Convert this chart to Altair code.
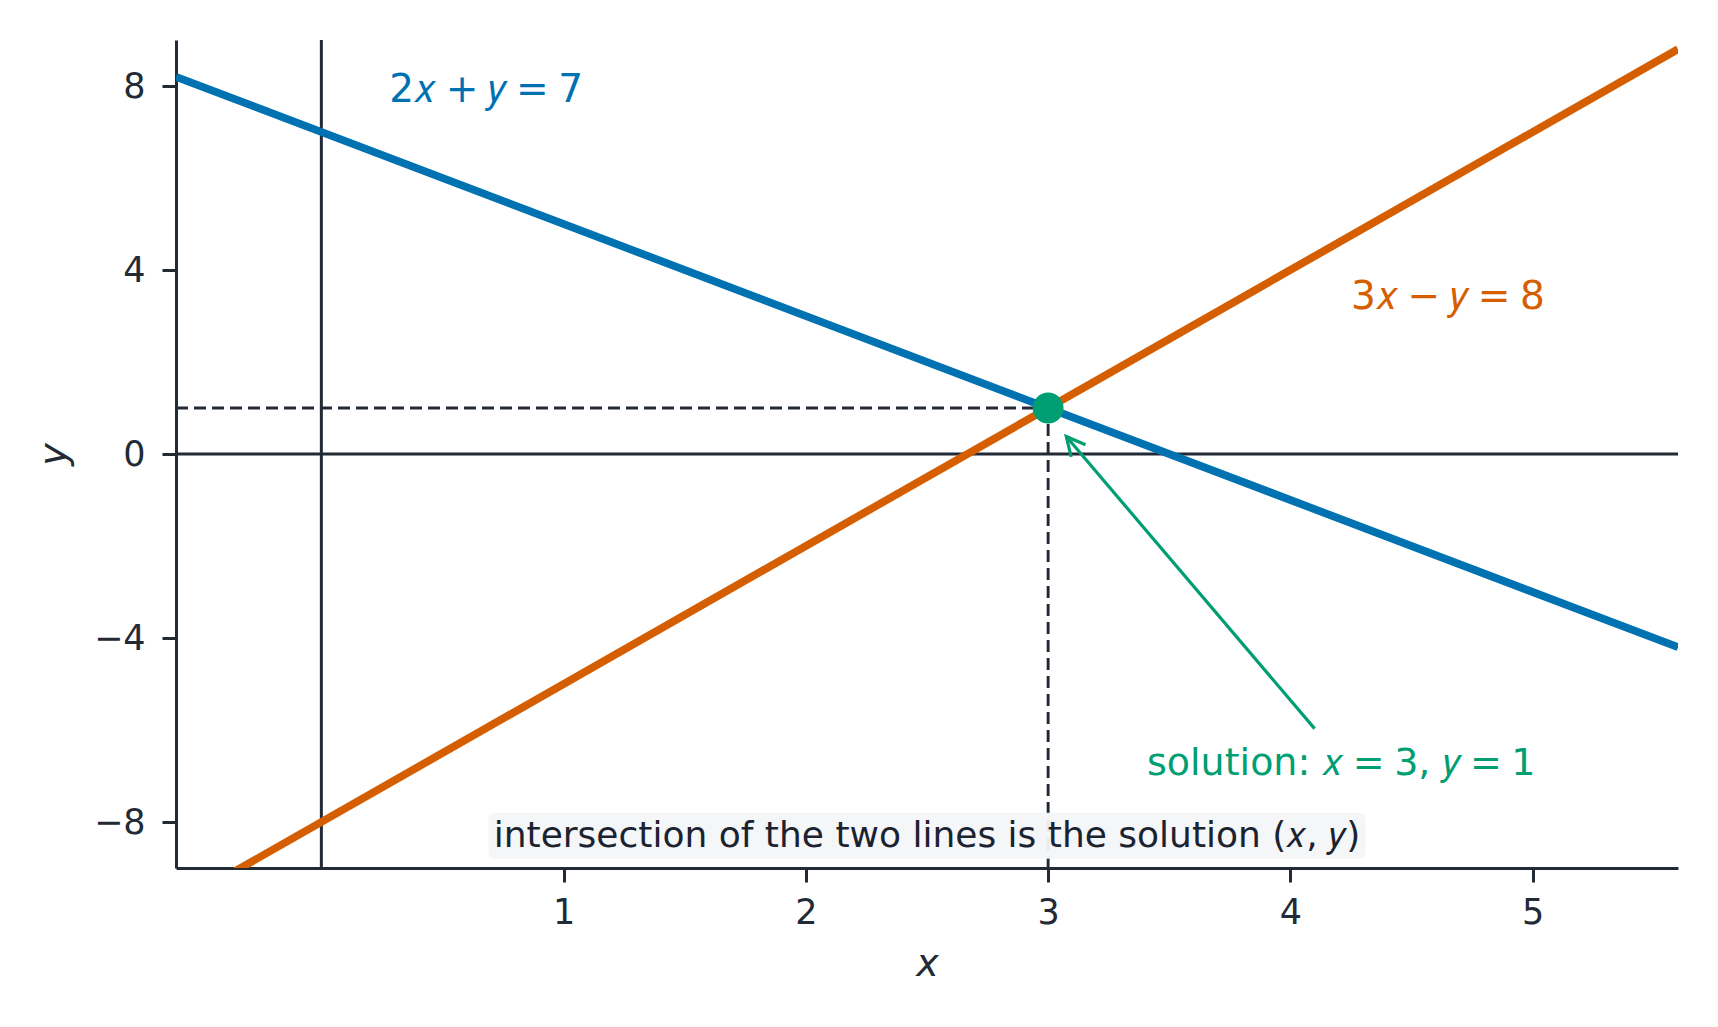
import altair as alt
import pandas as pd

# ---- values ----
x_domain = [-0.6, 5.6]
y_domain = [-9, 9]
x_ticks = [1, 2, 3, 4, 5]
y_ticks = [-8, -4, 0, 4, 8]

line_x = [-0.6, 5.6]
blue_y = [8.2, -4.2]      # 2x + y = 7
orange_y = [-9.8, 8.8]    # 3x - y = 8

sol_x = [3]
sol_y = [1]

S = "\u2005"  # narrower math-style space
label_text = [f"2𝑥{S}+{S}𝑦{S}={S}7", f"3𝑥{S}−{S}𝑦{S}={S}8"]
label_x = [0.28, 4.25]
label_y = [8.0, 3.5]
label_color = ["#0072B2", "#D55E00"]

solution_text = [f"solution: 𝑥{S}={S}3, 𝑦{S}={S}1"]
solution_x = [4.21]
solution_y = [-6.7]

arrow_from = [4.10, -5.97]
arrow_to = [3.075, 0.38]

note_text = ["intersection of the two lines is the solution (𝑥, 𝑦)"]
note_x = [2.5]
note_y = [-8.3]
note_box_x = [0.69, 4.31]
note_box_y = [-7.8, -8.8]

# ---- styling ----
AX = "#222a36"
BLUE = "#0072B2"
ORANGE = "#D55E00"
GREEN = "#009E73"
FONT = "DejaVu Sans"

xscale = alt.Scale(domain=x_domain, nice=False, zero=False)
yscale = alt.Scale(domain=y_domain, nice=False, zero=False)

xaxis = alt.Axis(values=x_ticks, title="x", grid=False, domainColor=AX, domainWidth=3,
                 tickColor=AX, tickWidth=3, tickSize=14, labelFontSize=35, labelColor=AX,
                 labelPadding=13, labelFont=FONT, titleFont=FONT, titleFontSize=38,
                 titleFontWeight="normal", titleFontStyle="italic", titleColor=AX,
                 titleY=107, titleBaseline="alphabetic")
yaxis = alt.Axis(values=y_ticks, title="y", grid=False, domainColor=AX, domainWidth=3,
                 tickColor=AX, tickWidth=3, tickSize=14, labelFontSize=35, labelColor=AX,
                 labelPadding=17, labelFont=FONT, titleFont=FONT, titleFontSize=38,
                 titleFontWeight="normal", titleFontStyle="italic", titleColor=AX,
                 titleAngle=270, titleX=-111, titleY=414, titleBaseline="alphabetic",
                 titleAlign="center")


def X(f):
    return alt.X(f, type="quantitative", scale=xscale, axis=xaxis)


def Y(f):
    return alt.Y(f, type="quantitative", scale=yscale, axis=yaxis)


lines_df = pd.DataFrame({
    "x": line_x * 2,
    "y": blue_y + orange_y,
    "eq": ["blue"] * 2 + ["orange"] * 2,
})

base_df = pd.DataFrame({"x": [0.0], "y": [0.0]})

zero_v = alt.Chart(base_df).mark_rule(color=AX, strokeWidth=3).encode(x=X("x"))
zero_h = alt.Chart(base_df).mark_rule(color=AX, strokeWidth=3).encode(y=Y("y"))

guide_df = pd.DataFrame({
    "x": [x_domain[0], sol_x[0]],
    "x2": [sol_x[0], sol_x[0]],
    "y": [sol_y[0], y_domain[0]],
    "y2": [sol_y[0], sol_y[0]],
})
guides = alt.Chart(guide_df).mark_rule(color=AX, strokeWidth=2.9, strokeDash=[12, 6]).encode(
    x=X("x"), x2="x2", y=Y("y"), y2="y2")

lines = alt.Chart(lines_df).mark_line(strokeWidth=7.8, clip=True).encode(
    x=X("x"), y=Y("y"),
    color=alt.Color("eq:N", scale=alt.Scale(domain=["blue", "orange"], range=[BLUE, ORANGE]), legend=None),
    detail="eq:N")

point = alt.Chart(pd.DataFrame({"x": sol_x, "y": sol_y})).mark_circle(
    size=950, color=GREEN, opacity=1).encode(x=X("x"), y=Y("y"))

arrow_df = pd.DataFrame({"x": [arrow_from[0]], "y": [arrow_from[1]],
                         "x2": [arrow_to[0]], "y2": [arrow_to[1]]})
arrow_line = alt.Chart(arrow_df).mark_rule(color=GREEN, strokeWidth=3.2).encode(
    x=X("x"), y=Y("y"), x2="x2", y2="y2")
arrow_head = alt.Chart(pd.DataFrame({"x": [arrow_to[0]], "y": [arrow_to[1]]})).mark_point(
    shape="M-0.5,1L0,0L0.5,1", size=1400, filled=False, stroke=GREEN, strokeWidth=3.2,
    angle=320, opacity=1).encode(x=X("x"), y=Y("y"))

labels_df = pd.DataFrame({"t": label_text, "x": label_x, "y": label_y, "c": label_color})
labels = alt.Chart(labels_df).mark_text(font=FONT, fontSize=39, align="left",
                                        baseline="middle", dy=4).encode(
    x=X("x"), y=Y("y"), text="t:N", color=alt.Color("c:N", scale=None))

sol_text = alt.Chart(pd.DataFrame({"t": solution_text, "x": solution_x, "y": solution_y})).mark_text(
    font=FONT, fontSize=38, align="center", baseline="middle", dy=2, color=GREEN).encode(
    x=X("x"), y=Y("y"), text="t:N")

box = alt.Chart(pd.DataFrame({"x": [note_box_x[0]], "x2": [note_box_x[1]],
                              "y": [note_box_y[0]], "y2": [note_box_y[1]]})).mark_rect(
    color="#f3f5f8", cornerRadius=6, opacity=0.95).encode(x=X("x"), x2="x2", y=Y("y"), y2="y2")

note = alt.Chart(pd.DataFrame({"t": note_text, "x": note_x, "y": note_y})).mark_text(
    font=FONT, fontSize=36, align="center", baseline="middle", color="#1b2230").encode(
    x=X("x"), y=Y("y"), text="t:N")

chart = alt.layer(zero_v, zero_h, guides, lines, point, arrow_line, arrow_head,
                  labels, sol_text, box, note).properties(
    width=1502, height=828,
    autosize=alt.AutoSizeParams(type="none"),
    padding={"left": 168, "top": 32, "right": 32, "bottom": 150},
    background="white",
).configure_view(stroke=None)

chart.save("out.html", embed_options={"renderer": "svg", "actions": False})
